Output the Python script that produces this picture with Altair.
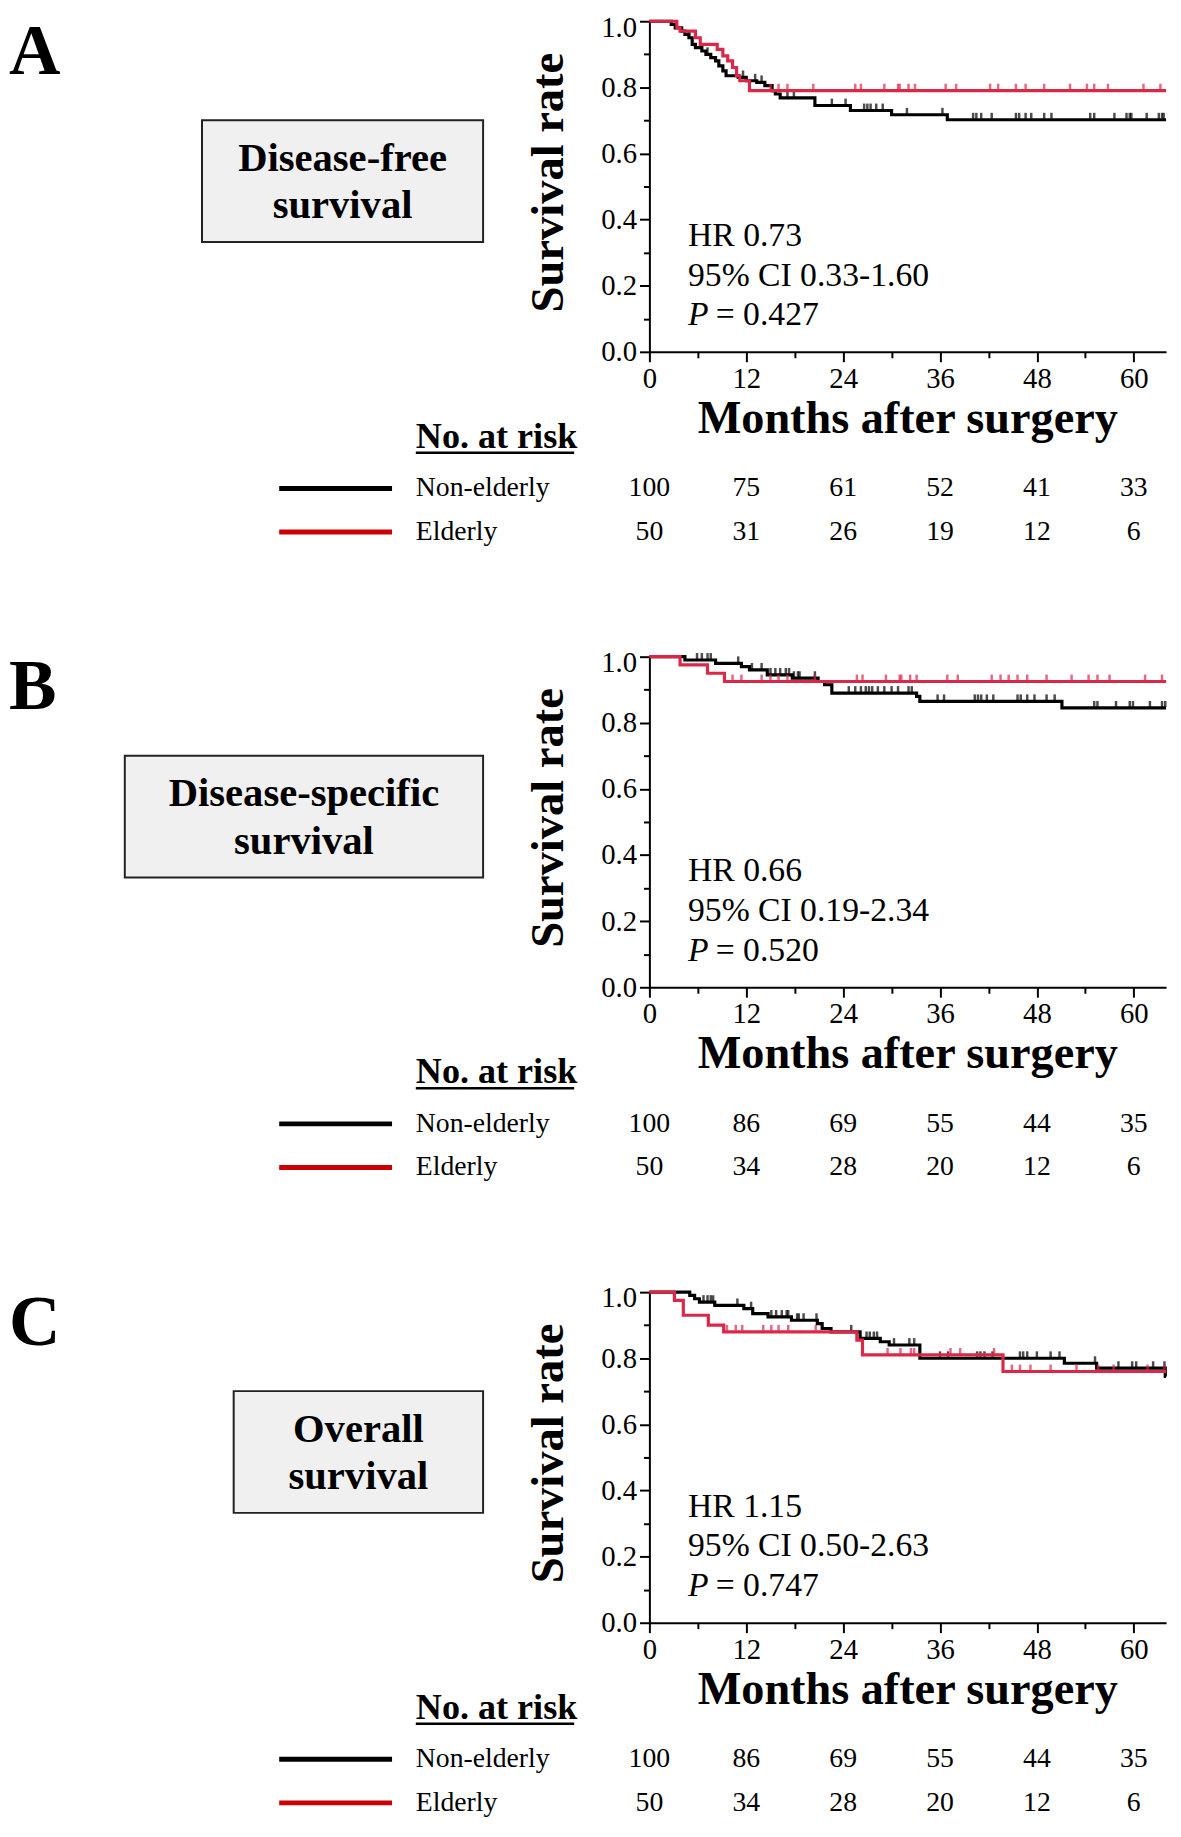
import altair as alt
import pandas as pd

FONT = "Liberation Serif"
BLACK = "#000000"
RED_CURVE = "#dc2848"
RED_LEGEND = "#cc0000"

END_MONTH = 64.0
risk_months = [0, 12, 24, 36, 48, 60]
group_names = ["Non-elderly", "Elderly"]

# ---------------- Panel A: Disease-free survival ----------------
a_non_t = [2.7, 3.2, 4.0, 4.4, 4.9, 5.3, 5.7, 6.5, 7.0, 7.6, 8.2, 8.6, 9.1, 9.5, 11.0, 12.0, 13.3,
           14.3, 15.2, 15.6, 16.2, 20.5, 24.9, 30.0, 36.9]
a_non_s = [0.99, 0.98, 0.97, 0.96, 0.95, 0.93, 0.92, 0.91, 0.90, 0.89, 0.88, 0.865, 0.85, 0.835, 0.83,
           0.82, 0.815, 0.805, 0.79, 0.78, 0.768, 0.745, 0.73, 0.717, 0.702]
a_non_cens = [4.9, 7.2, 11.6, 13.1, 13.9, 17.1, 17.9, 22.6, 24.3, 26.6, 27.0, 27.4, 28.1, 28.9, 31.9,
              36.3, 40.1, 40.5, 41.1, 42.4, 45.4, 45.8, 46.6, 47.3, 48.9, 49.8, 54.6, 55.1, 57.6, 59.1,
              59.5, 59.7, 61.6, 63.1, 63.5, 63.7]
a_eld_t = [3.4, 3.8, 5.7, 6.3, 8.4, 9.1, 9.7, 10.3, 10.8, 11.2, 12.4]
a_eld_s = [0.98, 0.97, 0.95, 0.93, 0.915, 0.895, 0.88, 0.86, 0.835, 0.82, 0.79]
a_eld_cens = [15.0, 16.0, 17.1, 20.3, 25.5, 26.2, 29.1, 30.8, 31.0, 32.1, 32.9, 36.7, 38.0, 42.2, 43.2,
              45.4, 46.6, 48.9, 52.1, 54.2, 55.1, 56.8, 61.2, 63.3]
a_non_risk = [100, 75, 61, 52, 41, 33]
a_eld_risk = [50, 31, 26, 19, 12, 6]
a_stats = ["HR 0.73", "95% CI 0.33-1.60", "= 0.427"]
a_title = ["Disease-free", "survival"]

# ---------------- Panel B: Disease-specific survival ----------------
b_non_t = [4.4, 8.2, 11.4, 12.4, 14.6, 17.7, 20.9, 21.7, 22.6, 33.1, 33.5, 51.1]
b_non_s = [0.99, 0.98, 0.97, 0.96, 0.945, 0.935, 0.925, 0.915, 0.89, 0.88, 0.865, 0.845]
b_non_cens = [5.9, 6.5, 7.2, 7.6, 11.0, 12.7, 13.9, 15.0, 15.6, 16.2, 16.9, 17.3, 17.9, 18.4, 18.6, 20.5,
              24.7, 25.5, 26.2, 26.8, 27.2, 27.6, 28.3, 29.1, 30.0, 30.8, 32.1, 32.5, 35.7, 36.5, 40.3,
              40.7, 41.1, 41.8, 42.6, 45.6, 46.0, 46.8, 47.7, 49.2, 50.2, 55.1, 55.5, 57.8, 59.5, 59.9,
              62.0, 63.5, 63.9]
b_eld_t = [3.8, 7.2, 9.3]
b_eld_s = [0.975, 0.95, 0.925]
b_eld_cens = [10.3, 11.4, 13.9, 15.0, 16.0, 17.1, 20.5, 25.7, 26.4, 29.3, 31.0, 31.2, 32.3, 33.1, 36.9,
              38.2, 42.4, 43.5, 44.5, 45.6, 46.8, 49.2, 52.3, 54.4, 55.5, 57.0, 61.4, 63.5]
b_non_risk = [100, 86, 69, 55, 44, 35]
b_eld_risk = [50, 34, 28, 20, 12, 6]
b_stats = ["HR 0.66", "95% CI 0.19-2.34", "= 0.520"]
b_title = ["Disease-specific", "survival"]

# ---------------- Panel C: Overall survival ----------------
c_non_t = [5.0, 5.6, 6.2, 8.1, 11.7, 12.8, 14.7, 17.6, 20.8, 21.4, 22.5, 26.1, 28.6, 29.7, 33.5, 51.4,
           55.4, 63.9]
c_non_s = [0.99, 0.98, 0.97, 0.96, 0.95, 0.935, 0.925, 0.915, 0.905, 0.89, 0.88, 0.86, 0.85, 0.84, 0.80,
           0.785, 0.77, 0.745]
c_non_cens = [6.7, 7.2, 7.6, 7.9, 10.9, 12.6, 15.1, 15.7, 16.4, 17.0, 17.2, 18.3, 18.5, 19.1, 20.7, 25.0,
              26.9, 27.3, 27.8, 28.2, 30.3, 32.2, 32.8, 36.0, 37.0, 40.6, 41.0, 41.5, 42.5, 45.9, 46.3,
              46.8, 48.0, 49.7, 50.8, 55.2, 58.1, 59.8, 60.3, 62.4, 63.8]
c_eld_t = [3.1, 4.2, 7.3, 9.2, 25.7, 26.4, 43.8]
c_eld_s = [0.975, 0.93, 0.90, 0.88, 0.855, 0.81, 0.76]
c_eld_cens = [9.6, 10.7, 11.5, 14.1, 15.1, 16.0, 17.2, 20.6, 29.5, 31.1, 32.4, 32.8, 37.3, 38.5, 42.7,
              44.9, 45.9, 47.2, 49.7, 52.9, 55.6, 57.5, 61.7, 63.8]
c_non_risk = [100, 86, 69, 55, 44, 35]
c_eld_risk = [50, 34, 28, 20, 12, 6]
c_stats = ["HR 1.15", "95% CI 0.50-2.63", "= 0.747"]
c_title = ["Overall", "survival"]

# ---------------- layout (pixels relative to each plot area) ----------------
W, H = 522, 334
PITCH = 642
FRAME_LEFT, FRAME_RIGHT = -660, W + 1      # invisible frame that fixes the chart bounds
FRAME_TOP, FRAME_BOTTOM = -40, 531
ORIGIN_X, ORIGIN_Y = 656, 12               # page position of panel A's plot area


def step_df(times, surv):
    return pd.DataFrame({"t": [0.0] + times + [END_MONTH], "s": [1.0] + surv + [surv[-1]]})


def censor_df(ctimes, times, surv):
    ys = []
    for c in ctimes:
        v = 1.0
        for t, s in zip(times, surv):
            if t <= c:
                v = s
        ys.append(v)
    return pd.DataFrame({"t": ctimes, "s": ys})


x_axis = alt.Axis(values=list(range(0, 61, 6)),
                  labelExpr="datum.value % 12 == 0 ? datum.label : ''",
                  tickSize={"condition": {"test": "datum.value % 12 != 0", "value": 6}, "value": 10},
                  title=None, labelPadding=3, labelOverlap=False, labelFlush=False)
y_axis = alt.Axis(values=[i / 10 for i in range(11)],
                  labelExpr="round(datum.value*10) % 2 == 0 ? format(datum.value, '.1f') : ''",
                  tickSize={"condition": {"test": "round(datum.value*10) % 2 != 0", "value": 6}, "value": 10},
                  labelOffset={"condition": {"test": "datum.value >= 0.99", "value": 6}, "value": 0},
                  title=None, labelPadding=3, labelOverlap=False, labelFlush=False)


def xenc():
    return alt.X("t:Q", scale=alt.Scale(domain=[0, END_MONTH], nice=False, zero=False), axis=x_axis)


def yenc():
    return alt.Y("s:Q", scale=alt.Scale(domain=[0, 1], nice=False), axis=y_axis)


def label(text, x, y, size, weight="normal", style="normal", align="left", baseline="middle", angle=None):
    kw = dict(font=FONT, fontSize=size, fontWeight=weight, fontStyle=style, align=align,
              baseline=baseline, color=BLACK)
    if angle:
        kw["angle"] = angle
    return alt.Chart(pd.DataFrame({"label": [text]})).mark_text(**kw).encode(
        x=alt.value(x), y=alt.value(y), text="label:N")


def hrule(x0, x1, y, width, color):
    return alt.Chart(pd.DataFrame({"k": [0]})).mark_rule(color=color, strokeWidth=width).encode(
        x=alt.value(x0), x2=alt.value(x1), y=alt.value(y))


def frame(y0, y1):
    return alt.Chart(pd.DataFrame({"k": [0]})).mark_rect(opacity=0).encode(
        x=alt.value(FRAME_LEFT), x2=alt.value(FRAME_RIGHT), y=alt.value(y0), y2=alt.value(y1))


def panel(letter, title_lines, box_x0, non_t, non_s, non_c, eld_t, eld_s, eld_c, stats, non_risk, eld_risk,
          frame_y):
    layers = [frame(*frame_y)]
    box_x1 = -168
    layers.append(alt.Chart(pd.DataFrame({"k": [0]})).mark_rect(
        fill="#f0f0f0", stroke="#222222", strokeWidth=2).encode(
        x=alt.value(box_x0), x2=alt.value(box_x1), y=alt.value(100), y2=alt.value(223)))
    cx = (box_x0 + box_x1) / 2
    layers.append(label(title_lines[0], cx, 139, 41, weight="bold", align="center"))
    layers.append(label(title_lines[1], cx, 187, 41, weight="bold", align="center"))
    layers.append(label(letter, -647, 53, 72, weight="bold", baseline="alphabetic"))
    layers.append(label("Survival rate", -101, H / 2 - 4, 47, weight="bold", align="center", angle=270))
    layers.append(label("Months after surgery", 261, 416, 46.7, weight="bold", align="center",
                        baseline="alphabetic"))
    layers.append(label(stats[0], 39, 217, 34))
    layers.append(label(stats[1], 39, 257, 34))
    layers.append(label("P", 39, 297, 34, style="italic"))
    layers.append(label(stats[2], 67, 297, 34))
    # curves
    layers.append(alt.Chart(step_df(non_t, non_s)).mark_line(
        interpolate="step-after", color=BLACK, strokeWidth=3.2).encode(x=xenc(), y=yenc()))
    layers.append(alt.Chart(censor_df(non_c, non_t, non_s)).mark_tick(
        orient="vertical", color=BLACK, size=6, thickness=2.5, yOffset=-4).encode(x=xenc(), y=yenc()))
    layers.append(alt.Chart(step_df(eld_t, eld_s)).mark_line(
        interpolate="step-after", color=RED_CURVE, strokeWidth=3.2).encode(x=xenc(), y=yenc()))
    layers.append(alt.Chart(censor_df(eld_c, eld_t, eld_s)).mark_tick(
        orient="vertical", color=RED_CURVE, size=6, thickness=2.5, yOffset=-4).encode(x=xenc(), y=yenc()))
    # number at risk table
    layers.append(label("No. at risk", -236, 431, 36.5, weight="bold", baseline="alphabetic"))
    layers.append(hrule(-236, -76, 436, 2.5, BLACK))
    rows = [(472, BLACK, group_names[0], non_risk), (516, RED_LEGEND, group_names[1], eld_risk)]
    for y, col, name, counts in rows:
        layers.append(hrule(-374, -260, y, 5, col))
        layers.append(label(name, -236, y, 28))
        layers.append(alt.Chart(pd.DataFrame({"t": risk_months, "n": counts})).mark_text(
            font=FONT, fontSize=28, color=BLACK, align="center", baseline="middle").encode(
            x=xenc(), y=alt.value(y), text="n:Q"))
    return alt.layer(*layers).properties(width=W, height=H)


pA = panel("A", a_title, -452, a_non_t, a_non_s, a_non_cens, a_eld_t, a_eld_s, a_eld_cens,
           a_stats, a_non_risk, a_eld_risk, (FRAME_TOP, 0))
pB = panel("B", b_title, -530, b_non_t, b_non_s, b_non_cens, b_eld_t, b_eld_s, b_eld_cens,
           b_stats, b_non_risk, b_eld_risk, (0, H))
pC = panel("C", c_title, -420, c_non_t, c_non_s, c_non_cens, c_eld_t, c_eld_s, c_eld_cens,
           c_stats, c_non_risk, c_eld_risk, (0, FRAME_BOTTOM))

# the page has an 8px margin; negative padding trims the invisible frame so panel A's plot
# area lands at (ORIGIN_X, ORIGIN_Y) on the page
chart = alt.vconcat(pA, pB, pC, spacing=PITCH - H, bounds="flush").properties(
    padding={"top": ORIGIN_Y - 8 + FRAME_TOP, "left": ORIGIN_X - 8 + FRAME_LEFT, "right": 0, "bottom": 0},
    background="white"
).configure_view(stroke=None).configure_axis(
    domainColor=BLACK, domainWidth=2, tickColor=BLACK, tickWidth=2, grid=False,
    labelFont=FONT, labelFontSize=29, labelColor=BLACK
)

chart.save("out.html", embed_options={"renderer": "svg", "actions": False})
